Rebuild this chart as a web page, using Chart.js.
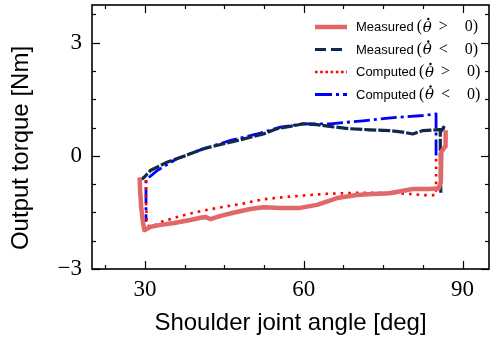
<!DOCTYPE html>
<html lang="en">
<head>
    <meta charset="UTF-8">
    <title>Output torque vs shoulder joint angle</title>
    <script src="https://cdn.jsdelivr.net/npm/chart.js"></script>
    <style>
        body {
            margin: 0;
            background: white;
        }
        #wrap {
            width: 490px;
            height: 341px;
        }
    </style>
</head>
<body>

<div id="wrap">
    <canvas id="torqueChart" width="490" height="341"></canvas>
</div>

<script>
    // values
    const legendLabels = ['Measured (θ̇ > 0)', 'Measured (θ̇ < 0)', 'Computed (θ̇ > 0)', 'Computed (θ̇ < 0)'];

    const measuredPosAngle  = [29.0, 29.1, 29.3, 29.6, 29.9, 31.1, 33.0, 35.5, 38.6, 40.5, 41.5, 42.4, 44.3, 46.7, 49.9, 52.4, 55.6, 59.3, 62.5, 66.3, 70.0, 73.0, 76.2, 80.6, 83.7, 85.5, 85.9, 86.0, 86.7, 86.8];
    const measuredPosTorque = [-0.57, -0.95, -1.35, -1.75, -1.97, -1.88, -1.83, -1.78, -1.70, -1.64, -1.62, -1.68, -1.59, -1.51, -1.41, -1.36, -1.38, -1.38, -1.30, -1.12, -1.04, -1.01, -0.99, -0.88, -0.88, -0.86, -0.70, 0.10, 0.25, 0.68];

    const measuredNegAngle  = [85.9, 85.8, 85.8, 85.8, 86.6, 86.3, 85.0, 82.5, 80.6, 78.7, 76.2, 72.5, 68.7, 64.9, 62.5, 59.9, 58.1, 54.9, 52.4, 48.7, 44.9, 41.1, 37.4, 34.3, 31.1, 29.9, 29.4];
    const measuredNegTorque = [-0.98, -0.50, 0.20, 0.62, 0.80, 0.70, 0.69, 0.67, 0.58, 0.63, 0.67, 0.69, 0.72, 0.78, 0.83, 0.85, 0.80, 0.72, 0.58, 0.45, 0.32, 0.19, -0.01, -0.16, -0.38, -0.56, -0.62];

    const computedPosAngle  = [30.2, 30.2, 30.4, 31.1, 33.3, 36.1, 38.6, 41.1, 44.9, 48.7, 52.4, 57.4, 63.7, 70.0, 76.2, 80.0, 82.5, 85.0, 85.0];
    const computedPosTorque = [-0.64, -1.22, -1.83, -1.89, -1.74, -1.62, -1.53, -1.45, -1.35, -1.26, -1.15, -1.08, -1.01, -0.98, -0.98, -1.01, -1.04, -1.04, 0.01];

    const computedNegAngle  = [85.0, 85.0, 82.5, 77.5, 71.2, 65.0, 59.9, 55.6, 51.2, 46.2, 41.1, 36.1, 32.4, 30.2, 30.2];
    const computedNegTorque = [0.01, 1.11, 1.07, 1.02, 0.93, 0.85, 0.85, 0.76, 0.58, 0.41, 0.19, -0.07, -0.38, -0.64, -1.75];

    const xTickValues = [30, 60, 90];
    const yTickValues = [-3, 0, 3];
    const xTitle = 'Shoulder joint angle [deg]';
    const yTitle = 'Output torque [Nm]';

    const toPoints = (xs, ys) => xs.map((v, i) => ({x: v, y: ys[i]}));

    // line styles, plot dash and legend dash kept separate
    const styles = [
        {color: '#e06868', width: 4.5, dash: [], legendDash: []},
        {color: '#10294a', width: 3.2, dash: [12, 2], legendDash: [11, 5]},
        {color: '#ff0000', width: 2.6, dash: [2.6, 5], legendDash: [2.6, 2.6]},
        {color: '#0000ff', width: 2.8, dash: [16, 4, 3, 4], legendDash: [17, 4, 3, 4]}
    ];

    // inward ticks on all four sides, box frame, titles and legend
    const framePlugin = {
        id: 'frame',
        afterDatasetsDraw(chart) {
            const {ctx, chartArea: a, scales: {x, y}} = chart;
            ctx.save();
            ctx.strokeStyle = '#000';
            ctx.lineWidth = 1.2;
            const line = (x1, y1, x2, y2) => {
                ctx.beginPath();
                ctx.moveTo(x1, y1);
                ctx.lineTo(x2, y2);
                ctx.stroke();
            };
            for (let v = 22.5; v < 95; v += 7.5) {
                const px = Math.round(x.getPixelForValue(v)) + 0.5;
                const len = xTickValues.includes(v) ? 8 : 4;
                line(px, a.bottom, px, a.bottom - len);
                line(px, a.top, px, a.top + len);
            }
            for (let v = -3; v < 4; v += 0.75) {
                const py = Math.round(y.getPixelForValue(v)) + 0.5;
                const len = yTickValues.includes(v) ? 8 : 4;
                line(a.left, py, a.left + len, py);
                line(a.right, py, a.right - len, py);
            }
            ctx.lineWidth = 1.6;
            ctx.strokeRect(a.left, a.top, a.right - a.left, a.bottom - a.top);
            ctx.restore();
        },
        afterDraw(chart) {
            const {ctx, chartArea: a} = chart;
            ctx.save();
            ctx.fillStyle = '#000';
            ctx.font = '24px "Liberation Sans"';
            ctx.textAlign = 'center';
            ctx.textBaseline = 'middle';
            ctx.fillText(xTitle, (a.left + a.right) / 2, 323);
            ctx.translate(21, 148);
            ctx.rotate(-Math.PI / 2);
            ctx.fillText(yTitle, 0, 0);
            ctx.restore();

            // legend
            ctx.save();
            ctx.textBaseline = 'middle';
            ctx.textAlign = 'left';
            ctx.fillStyle = '#000';
            legendLabels.forEach((label, i) => {
                const rowY = 27 + i * 22.5;
                const s = styles[i];
                ctx.strokeStyle = s.color;
                ctx.lineWidth = s.width;
                ctx.setLineDash(s.legendDash);
                ctx.beginPath();
                ctx.moveTo(315, rowY);
                ctx.lineTo(347, rowY);
                ctx.stroke();
                ctx.setLineDash([]);

                const word = label.split(' (')[0];
                const sign = label.includes('>') ? '>' : '<';
                ctx.font = '13px "Liberation Sans"';
                ctx.fillText(word, 356, rowY + 0.5);
                const mx = 356 + ctx.measureText(word).width + 3;
                ctx.font = '16px "Liberation Serif"';
                ctx.fillText('(', mx, rowY);
                ctx.font = 'italic 15px "DejaVu Serif"';
                ctx.fillText('θ', mx + 6, rowY + 1);
                const tw = ctx.measureText('θ').width;
                ctx.beginPath();
                ctx.arc(mx + 6 + tw / 2 + 1, rowY - 8, 1.2, 0, Math.PI * 2);
                ctx.fill();
                ctx.font = '16px "Liberation Serif"';
                ctx.fillText(sign, mx + 22, rowY);
                ctx.fillText('0)', mx + 48, rowY);
            });
            ctx.restore();
        }
    };

    const ctx = document.getElementById('torqueChart').getContext('2d');
    const seriesX = [measuredPosAngle, measuredNegAngle, computedPosAngle, computedNegAngle];
    const seriesY = [measuredPosTorque, measuredNegTorque, computedPosTorque, computedNegTorque];

    const torqueChart = new Chart(ctx, {
        type: 'scatter',
        data: {
            datasets: legendLabels.map((label, i) => ({
                label: label,
                data: toPoints(seriesX[i], seriesY[i]),
                showLine: true,
                borderColor: styles[i].color,
                backgroundColor: styles[i].color,
                borderWidth: styles[i].width,
                borderDash: styles[i].dash,
                borderCapStyle: 'butt',
                borderJoinStyle: 'round',
                pointRadius: 0,
                tension: 0
            }))
        },
        options: {
            responsive: false,
            animation: false,
            layout: {
                padding: {top: 5, right: 1, left: 0, bottom: 0}
            },
            plugins: {
                legend: {display: false},
                tooltip: {enabled: false}
            },
            scales: {
                x: {
                    type: 'linear',
                    min: 20,
                    max: 95,
                    grid: {display: false, drawTicks: false},
                    border: {display: false},
                    afterBuildTicks: scale => {
                        scale.ticks = xTickValues.map(v => ({value: v}));
                    },
                    afterFit: scale => {
                        scale.height = 72;
                        scale.paddingLeft = 0;
                        scale.paddingRight = 0;
                    },
                    ticks: {
                        color: '#000',
                        padding: 7,
                        maxRotation: 0,
                        font: {family: 'Liberation Serif', size: 23},
                        callback: v => String(v)
                    }
                },
                y: {
                    type: 'linear',
                    min: -3,
                    max: 4,
                    grid: {display: false, drawTicks: false},
                    border: {display: false},
                    afterBuildTicks: scale => {
                        scale.ticks = yTickValues.map(v => ({value: v}));
                    },
                    afterFit: scale => {
                        scale.width = 92;
                        scale.paddingTop = 0;
                        scale.paddingBottom = 0;
                    },
                    ticks: {
                        color: '#000',
                        padding: 10,
                        font: {family: 'Liberation Serif', size: 23},
                        callback: v => v < 0 ? '\u2212' + Math.abs(v) : String(v)
                    }
                }
            }
        },
        plugins: [framePlugin]
    });
</script>

</body>
</html>
